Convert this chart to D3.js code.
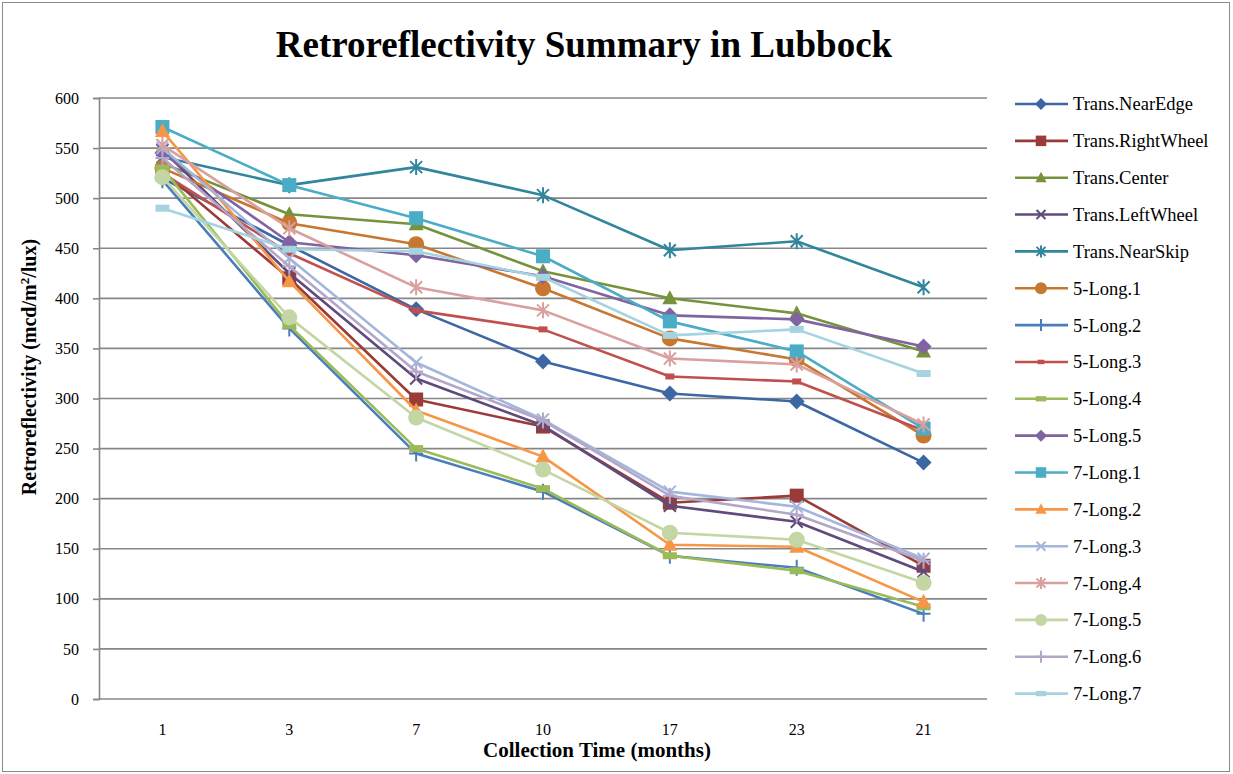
<!DOCTYPE html>
<html>
<head>
<meta charset="utf-8">
<script src="https://cdn.jsdelivr.net/npm/d3@7"></script>
<style>
  html, body { margin: 0; padding: 0; background: #fff; }
  svg { display: block; }
  svg text { font-family: "Liberation Serif", "Times New Roman", Times, "DejaVu Serif", serif; fill: #000; }
</style>
</head>
<body>
<svg id="chart" width="1233" height="774"></svg>
<script>
// ---------- DATA ----------
const categories = ["1", "3", "7", "10", "17", "23", "21"];
const yTicks = [0, 50, 100, 150, 200, 250, 300, 350, 400, 450, 500, 550, 600];

const seriesNames = [
  "Trans.NearEdge", "Trans.RightWheel", "Trans.Center", "Trans.LeftWheel", "Trans.NearSkip",
  "5-Long.1", "5-Long.2", "5-Long.3", "5-Long.4", "5-Long.5",
  "7-Long.1", "7-Long.2", "7-Long.3", "7-Long.4", "7-Long.5", "7-Long.6", "7-Long.7"
];

const transNearEdge   = [520, 453, 389, 337, 305, 297, 236];
const transRightWheel = [527, 420, 299, 272, 196, 203, 133];
const transCenter     = [535, 484, 474, 427, 400, 385, 347];
const transLeftWheel  = [548, 425, 320, 273, 193, 177, 127];
const transNearSkip   = [541, 513, 531, 503, 448, 457, 411];
const long5_1 = [530, 475, 454, 410, 360, 339, 263];
const long5_2 = [518, 370, 245, 207, 143, 131, 85];
const long5_3 = [525, 445, 388, 369, 322, 317, 268];
const long5_4 = [530, 373, 250, 210, 143, 128, 92];
const long5_5 = [545, 456, 443, 422, 383, 379, 352];
const long7_1 = [571, 513, 480, 442, 377, 347, 270];
const long7_2 = [567, 417, 288, 242, 154, 152, 97];
const long7_3 = [550, 440, 336, 279, 207, 192, 140];
const long7_4 = [553, 470, 411, 388, 340, 334, 274];
const long7_5 = [521, 381, 281, 229, 166, 159, 116];
const long7_6 = [540, 432, 327, 278, 203, 184, 138];
const long7_7 = [490, 449, 447, 421, 363, 369, 325];

const seriesValues = [
  transNearEdge, transRightWheel, transCenter, transLeftWheel, transNearSkip,
  long5_1, long5_2, long5_3, long5_4, long5_5,
  long7_1, long7_2, long7_3, long7_4, long7_5, long7_6, long7_7
];

const seriesColors = [
  "#3C67A3", "#9B3B39", "#76933C", "#5F4A7B", "#31859C",
  "#C7772F", "#4A7EBB", "#C0504D", "#9BBB59", "#8064A2",
  "#4BACC6", "#F79646", "#A3B6DB", "#D9A09E", "#C3D6A4", "#B3A6C9", "#A5D3E0"
];

const seriesMarkers = [
  "diamond", "square", "triangle", "x", "star",
  "circle", "plus", "dashSmall", "dash", "diamond",
  "square", "triangle", "x", "star", "circle", "plus", "dash"
];

// ---------- LAYOUT ----------
const FONT = "'Liberation Serif', 'Times New Roman', Times, 'DejaVu Serif', serif";
const svg = d3.select("#chart");
const plot = { left: 99, right: 987, top: 98, bottom: 699 };

svg.append("rect")
  .attr("x", 2.5).attr("y", 2.5).attr("width", 1227).attr("height", 769)
  .attr("fill", "#fff").attr("stroke", "#8a8a8a").attr("stroke-width", 1);

const x = d3.scaleBand().domain(categories).range([plot.left, plot.right]).padding(0);
const y = d3.scaleLinear().domain([0, 600]).range([plot.bottom, plot.top]);
const cx = c => x(c) + x.bandwidth() / 2;

// gridlines
svg.append("g").selectAll("line").data(yTicks).join("line")
  .attr("x1", plot.left).attr("x2", plot.right)
  .attr("y1", d => y(d)).attr("y2", d => y(d))
  .attr("stroke", "#878787").attr("stroke-width", 1.6);

// y axis
const yAxis = d3.axisLeft(y).tickValues(yTicks).tickSize(6).tickPadding(14).tickFormat(d3.format("d"));
const gy = svg.append("g").attr("transform", `translate(${plot.left},0)`).call(yAxis)
  .attr("font-family", FONT).attr("font-size", 16);
gy.select(".domain").attr("stroke", "#878787").attr("stroke-width", 1.6);
gy.selectAll(".tick line").attr("stroke", "#878787").attr("stroke-width", 1.6);
gy.selectAll(".tick text").attr("font-family", FONT).attr("font-size", 16).attr("fill", "#000");

// x axis labels (no tick marks)
const xAxis = d3.axisBottom(x).tickSize(0).tickPadding(25);
const gx = svg.append("g").attr("transform", `translate(0,${plot.bottom})`).call(xAxis)
  .attr("font-family", FONT).attr("font-size", 16);
gx.select(".domain").remove();
gx.selectAll(".tick text").attr("font-family", FONT).attr("font-size", 16).attr("fill", "#000");

// ---------- MARKERS ----------
function drawMarker(g, type, color, s) {
  switch (type) {
    case "diamond":
      g.append("path").attr("d", `M0,${-8 * s}L${8 * s},0L0,${8 * s}L${-8 * s},0Z`).attr("fill", color);
      break;
    case "square":
      g.append("rect").attr("x", -7 * s).attr("y", -7 * s).attr("width", 14 * s).attr("height", 14 * s).attr("fill", color);
      break;
    case "triangle":
      g.append("path").attr("d", `M0,${-8 * s}L${7.5 * s},${6 * s}L${-7.5 * s},${6 * s}Z`).attr("fill", color);
      break;
    case "circle":
      g.append("circle").attr("r", 8 * s).attr("fill", color);
      break;
    case "x":
      g.append("path").attr("d", `M${-6 * s},${-6 * s}L${6 * s},${6 * s}M${6 * s},${-6 * s}L${-6 * s},${6 * s}`)
        .attr("stroke", color).attr("stroke-width", 2).attr("fill", "none");
      break;
    case "star":
      g.append("path").attr("d", `M${-6 * s},${-6 * s}L${6 * s},${6 * s}M${6 * s},${-6 * s}L${-6 * s},${6 * s}M0,${-8 * s}L0,${8 * s}`)
        .attr("stroke", color).attr("stroke-width", 2).attr("fill", "none");
      break;
    case "plus":
      g.append("path").attr("d", `M0,${-8 * s}L0,${8 * s}M${-7 * s},0L${7 * s},0`)
        .attr("stroke", color).attr("stroke-width", 2).attr("fill", "none");
      break;
    case "dashSmall":
      g.append("rect").attr("x", -4.5 * s).attr("y", -3 * s).attr("width", 9 * s).attr("height", 6 * s).attr("fill", color);
      break;
    case "dash":
      g.append("rect").attr("x", -7 * s).attr("y", -3.5 * s).attr("width", 14 * s).attr("height", 7 * s).attr("fill", color);
      break;
  }
}

// ---------- SERIES ----------
const line = d3.line().x((d, i) => cx(categories[i])).y(d => y(d));
const seriesG = svg.append("g");
seriesNames.forEach((name, si) => {
  const g = seriesG.append("g");
  g.append("path").datum(seriesValues[si]).attr("d", line)
    .attr("fill", "none").attr("stroke", seriesColors[si]).attr("stroke-width", 2.6)
    .attr("stroke-linejoin", "round");
  seriesValues[si].forEach((v, i) => {
    const mg = g.append("g").attr("transform", `translate(${cx(categories[i])},${y(v)})`);
    drawMarker(mg, seriesMarkers[si], seriesColors[si], 1);
  });
});

// ---------- LEGEND ----------
const legend = svg.append("g");
const legY0 = 104, legStep = 36.85;
seriesNames.forEach((name, si) => {
  const gy0 = legY0 + si * legStep;
  const g = legend.append("g").attr("transform", `translate(0,${gy0})`);
  g.append("line").attr("x1", 1015).attr("x2", 1068).attr("y1", 0).attr("y2", 0)
    .attr("stroke", seriesColors[si]).attr("stroke-width", 2.6);
  const mg = g.append("g").attr("transform", "translate(1041,0)");
  drawMarker(mg, seriesMarkers[si], seriesColors[si], 0.75);
  g.append("text").attr("x", 1073).attr("y", 0).attr("dy", "0.35em")
    .attr("font-family", FONT).attr("font-size", 18.5).text(name);
});

// ---------- TITLES ----------
svg.append("text").attr("x", 584).attr("y", 57).attr("text-anchor", "middle")
  .attr("font-family", FONT).attr("font-size", 37).attr("font-weight", "bold")
  .text("Retroreflectivity Summary in Lubbock");

svg.append("text").attr("x", 597).attr("y", 757).attr("text-anchor", "middle")
  .attr("font-family", FONT).attr("font-size", 21).attr("font-weight", "bold")
  .text("Collection Time (months)");

const yt = svg.append("text").attr("transform", "translate(36,367) rotate(-90)").attr("text-anchor", "middle")
  .attr("font-family", FONT).attr("font-size", 20).attr("font-weight", "bold");
yt.append("tspan").text("Retroreflectivity  (mcd/m");
yt.append("tspan").attr("dy", -7).attr("font-size", 13).text("2");
yt.append("tspan").attr("dy", 7).text("/lux)");
</script>
</body>
</html>
